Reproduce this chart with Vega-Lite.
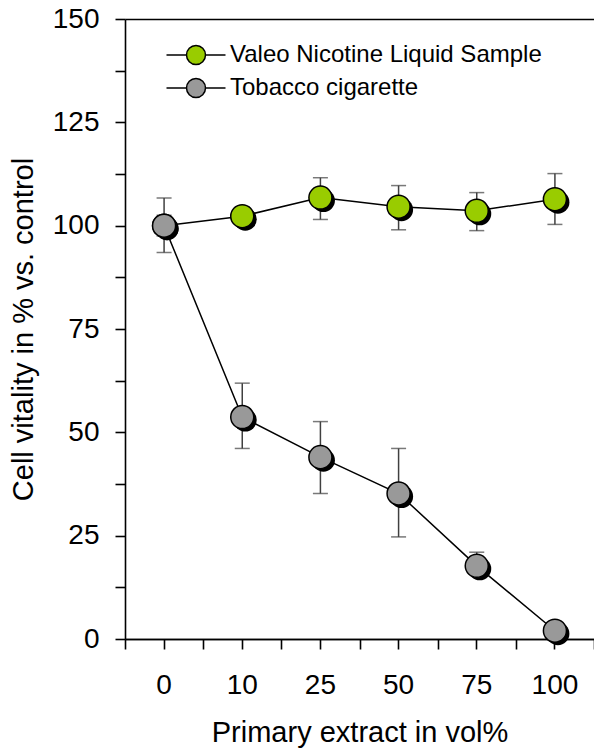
{
  "$schema": "https://vega.github.io/schema/vega-lite/v6.json",
  "width": 469,
  "height": 620,
  "autosize": {"type": "none"},
  "padding": {"left": 125, "top": 19, "right": 0, "bottom": 112},
  "background": "white",
  "config": {
    "view": {"stroke": null},
    "font": "Liberation Sans",
    "axis": {
      "domainColor": "black", "domainWidth": 1.6,
      "tickColor": "black", "tickWidth": 1.6, "tickSize": 10,
      "labelFont": "Liberation Sans", "labelFontSize": 28, "labelColor": "black",
      "titleFont": "Liberation Sans", "titleFontSize": 29, "titleFontWeight": "normal", "titleColor": "black",
      "grid": false
    },
    "legend": {
      "orient": "none", "legendX": 59, "legendY": 24, "padding": 0,
      "symbolType": "M-2.95,0H-0.95M0.95,0H2.95M0.95,0A0.95,0.95,0,1,1,-0.95,0A0.95,0.95,0,1,1,0.95,0Z",
      "symbolSize": 400, "symbolStrokeColor": "black", "symbolStrokeWidth": 1.5,
      "labelFont": "Liberation Sans", "labelFontSize": 24, "labelColor": "black",
      "labelOffset": 22, "rowPadding": 7, "labelLimit": 0
    }
  },
  "data": {
    "values": [
      {"conc": 0, "series": "Valeo Nicotine Liquid Sample", "mean": 100, "lo": 97.5, "hi": 102.5},
      {"conc": 10, "series": "Valeo Nicotine Liquid Sample", "mean": 102.3, "lo": 100.5, "hi": 104.5},
      {"conc": 25, "series": "Valeo Nicotine Liquid Sample", "mean": 106.8, "lo": 101.5, "hi": 111.6},
      {"conc": 50, "series": "Valeo Nicotine Liquid Sample", "mean": 104.6, "lo": 99.0, "hi": 109.7},
      {"conc": 75, "series": "Valeo Nicotine Liquid Sample", "mean": 103.6, "lo": 98.8, "hi": 108.0},
      {"conc": 100, "series": "Valeo Nicotine Liquid Sample", "mean": 106.4, "lo": 100.3, "hi": 112.6},
      {"conc": 0, "series": "Tobacco cigarette", "mean": 100, "lo": 93.5, "hi": 106.7},
      {"conc": 10, "series": "Tobacco cigarette", "mean": 53.7, "lo": 46.1, "hi": 61.9},
      {"conc": 25, "series": "Tobacco cigarette", "mean": 44.0, "lo": 35.2, "hi": 52.6},
      {"conc": 50, "series": "Tobacco cigarette", "mean": 35.2, "lo": 24.7, "hi": 46.1},
      {"conc": 75, "series": "Tobacco cigarette", "mean": 17.7, "lo": 16.0, "hi": 21.0},
      {"conc": 100, "series": "Tobacco cigarette", "mean": 2.0, "lo": 0.5, "hi": 3.5}
    ]
  },
  "layer": [
    {
      "mark": {"type": "rule", "color": "#404040", "strokeWidth": 1.5},
      "encoding": {
        "x": {"field": "conc", "type": "ordinal", "scale": {"type": "band", "paddingInner": 0, "paddingOuter": 0},
              "axis": {"tickBand": "extent", "labels": false, "title": null, "domain": true}},
        "y": {"field": "lo", "type": "quantitative", "scale": {"domain": [0, 150], "nice": false},
              "title": "Cell vitality in % vs. control",
              "axis": {"values": [0, 12.5, 25, 37.5, 50, 62.5, 75, 87.5, 100, 112.5, 125, 137.5, 150],
                       "labelExpr": "datum.value % 25 === 0 ? datum.label : ''", "labelPadding": 16, "titlePadding": 14}},
        "y2": {"field": "hi"}
      }
    },
    {
      "mark": {"type": "tick", "color": "#404040", "thickness": 1.5, "size": 15},
      "encoding": {
        "x": {"field": "conc", "type": "ordinal", "axis": null},
        "y": {"field": "lo", "type": "quantitative", "title": "Cell vitality in % vs. control"}
      }
    },
    {
      "mark": {"type": "tick", "color": "#404040", "thickness": 1.5, "size": 15},
      "encoding": {
        "x": {"field": "conc", "type": "ordinal", "axis": null},
        "y": {"field": "hi", "type": "quantitative", "title": "Cell vitality in % vs. control"}
      }
    },
    {
      "mark": {"type": "line", "color": "black", "strokeWidth": 1.5},
      "encoding": {
        "x": {"field": "conc", "type": "ordinal",
              "axis": {"orient": "top", "ticks": false, "labels": false, "title": null, "domain": true}},
        "y": {"field": "mean", "type": "quantitative", "title": "Cell vitality in % vs. control"},
        "detail": {"field": "series"}
      }
    },
    {
      "mark": {"type": "point", "filled": true, "color": "black", "opacity": 1, "size": 530, "xOffset": 3, "yOffset": 3},
      "encoding": {
        "x": {"field": "conc", "type": "ordinal", "axis": null},
        "y": {"field": "mean", "type": "quantitative", "title": "Cell vitality in % vs. control"}
      }
    },
    {
      "mark": {"type": "point", "filled": true, "opacity": 1, "size": 530, "stroke": "black", "strokeWidth": 1.5},
      "encoding": {
        "x": {"field": "conc", "type": "ordinal",
              "axis": {"labels": true, "labelAngle": 0, "labelPadding": 22, "title": "Primary extract in vol%", "titlePadding": 19}},
        "y": {"field": "mean", "type": "quantitative", "title": "Cell vitality in % vs. control"},
        "color": {"field": "series", "type": "nominal",
                  "scale": {"domain": ["Valeo Nicotine Liquid Sample", "Tobacco cigarette"], "range": ["#99cc00", "#999999"]},
                  "legend": {"title": null}}
      }
    }
  ],
  "resolve": {"axis": {"x": "independent"}}
}
